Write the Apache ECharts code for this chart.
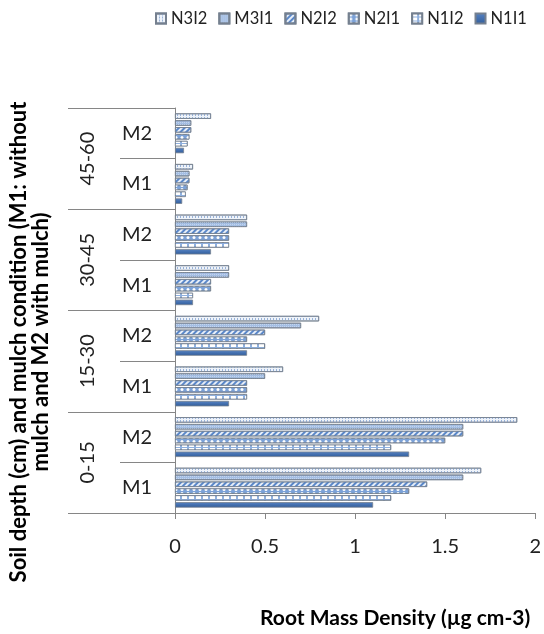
<!DOCTYPE html>
<html>
<head>
<meta charset="utf-8">
<script src="https://cdn.jsdelivr.net/npm/echarts@6/dist/echarts.min.js"></script>
<style>
  html, body { margin: 0; padding: 0; background: #fff; }
  #chart { width: 544px; height: 634px; }
</style>
</head>
<body>
<div id="chart"></div>
<script>
// Root mass density by soil depth and mulch condition, six treatments
const depthGroups = ['0-15', '15-30', '30-45', '45-60'];
const mulchLabels = ['M1', 'M2', 'M1', 'M2', 'M1', 'M2', 'M1', 'M2'];
const valueTicks = { min: 0, max: 2, interval: 0.5 };

// One value per category, bottom (0-15 M1) to top (45-60 M2)
const seriesNames = ['N3I2', 'M3I1', 'N2I2', 'N2I1', 'N1I2', 'N1I1'];
const N3I2 = [1.70, 1.90, 0.60, 0.80, 0.30, 0.40, 0.10, 0.20];
const M3I1 = [1.60, 1.60, 0.50, 0.70, 0.30, 0.40, 0.08, 0.09];
const N2I2 = [1.40, 1.60, 0.40, 0.50, 0.20, 0.30, 0.08, 0.09];
const N2I1 = [1.30, 1.50, 0.40, 0.40, 0.20, 0.30, 0.07, 0.08];
const N1I2 = [1.20, 1.20, 0.40, 0.50, 0.10, 0.30, 0.06, 0.07];
const N1I1 = [1.10, 1.30, 0.30, 0.40, 0.10, 0.20, 0.04, 0.05];
const seriesData = [N3I2, M3I1, N2I2, N2I1, N1I2, N1I1];

const FONT = 'Lato, "Open Sans", sans-serif';
const GRID = { left: 175, right: 4, top: 108, bottom: 116 };

// Fill + pattern for each treatment
const styles = [
  { color: '#eef3fa', decal: { symbol: 'rect', color: '#98b2d8', dashArrayX: [1, 2], dashArrayY: [2, 1], symbolSize: 1 } },
  { color: '#a4bee3', decal: { symbol: 'rect', color: '#c3d5ee', dashArrayX: [1, 1], dashArrayY: [1, 1], symbolSize: 1 } },
  { color: '#e6eef9', decal: { symbol: 'rect', color: '#5a87c8', dashArrayX: [1, 0], dashArrayY: [2, 2], rotation: -Math.PI / 4 } },
  { color: '#7ba1d7', decal: { symbol: 'circle', color: '#ffffff', dashArrayX: [4, 1.5], dashArrayY: [3, 1], symbolSize: 1 } },
  { color: '#8fb0de', decal: { symbol: 'rect', color: '#ffffff', dashArrayX: [5, 1.5], dashArrayY: [2.5, 1], symbolSize: 1 } },
  { color: new echarts.graphic.LinearGradient(0, 0, 0, 1, [
      { offset: 0, color: '#5884c4' }, { offset: 1, color: '#305c9a' }
    ]), decal: null }
];

const chart = echarts.init(document.getElementById('chart'), null, { renderer: 'canvas' });

const series = seriesNames.map((name, i) => ({
  name,
  type: 'bar',
  yAxisIndex: 0,
  data: seriesData[i],
  barWidth: 5.5,
  barGap: '25%',
  itemStyle: Object.assign({
    color: styles[i].color,
    borderColor: '#75808f',
    borderWidth: 0.8
  }, styles[i].decal ? { decal: styles[i].decal } : {})
}));

chart.setOption({
  animation: false,
  backgroundColor: '#ffffff',
  textStyle: { fontFamily: FONT },
  legend: {
    top: 5,
    left: 150,
    icon: 'rect',
    itemWidth: 10,
    itemHeight: 10,
    itemGap: 11,
    data: seriesNames,
    textStyle: { fontFamily: FONT, fontSize: 16.5, color: '#222' }
  },
  grid: GRID,
  xAxis: {
    type: 'value',
    min: valueTicks.min,
    max: valueTicks.max,
    interval: valueTicks.interval,
    name: 'Root Mass Density (µg cm-3)',
    nameLocation: 'middle',
    nameGap: 95,
    nameTextStyle: { fontFamily: FONT, fontSize: 21, fontWeight: 'bold', color: '#000', padding: [0, 0, 0, 80] },
    splitLine: { show: false },
    axisLine: { show: true, lineStyle: { color: '#868686', width: 1 } },
    axisTick: { show: true, length: 6, lineStyle: { color: '#868686' } },
    axisLabel: { margin: 24, fontFamily: FONT, fontSize: 20, color: '#222',
      formatter: v => String(v) }
  },
  yAxis: [
    {
      type: 'category',
      data: mulchLabels,
      position: 'left',
      axisLine: { show: true, lineStyle: { color: '#868686', width: 1 } },
      axisTick: { show: true, length: 55, interval: 0, lineStyle: { color: '#868686' } },
      axisLabel: { margin: 38, align: 'center', fontFamily: FONT, fontSize: 20, color: '#222' }
    },
    {
      type: 'category',
      data: depthGroups,
      position: 'left',
      axisLine: { show: false },
      axisTick: { show: true, length: 107, interval: 0, lineStyle: { color: '#868686' } },
      axisLabel: { margin: 77, rotate: 90, fontFamily: FONT, fontSize: 20, color: '#222' }
    }
  ],
  graphic: [
    {
      type: 'text',
      x: 30,
      y: 342,
      rotation: Math.PI / 2,
      style: {
        text: 'Soil depth (cm) and mulch condition (M1: without\nmulch and M2 with mulch)',
        font: 'bold 22px ' + FONT,
        fill: '#000',
        align: 'center',
        verticalAlign: 'middle',
        lineHeight: 22
      }
    }
  ],
  series
});
</script>
</body>
</html>
